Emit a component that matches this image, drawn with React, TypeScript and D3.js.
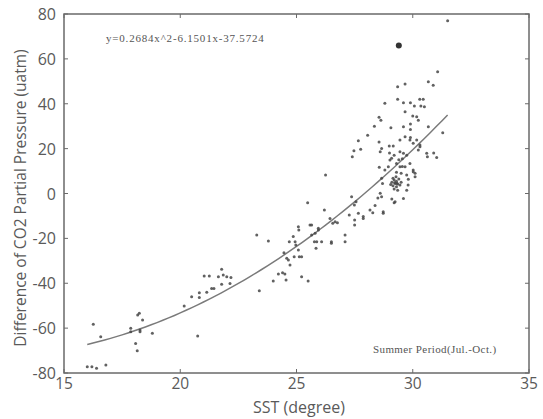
import React from 'react';
import * as d3 from 'd3';

// Sea surface temperature (degree) of each observation
const sstValues: number[] = [
  16.0, 16.2, 16.4, 16.8, 16.26, 16.58, 17.87, 17.87, 18.08, 18.15, 18.17, 18.24, 18.38, 18.27, 18.27, 18.8,
  20.75, 20.17, 20.49, 20.82, 20.82, 21.03, 21.25, 21.14, 21.35, 21.45, 21.78, 21.85, 21.64, 22.0, 21.78, 22.14, 22.18,
  23.29, 23.79, 23.4, 24.0, 24.22, 24.4, 24.5, 24.55, 25.22, 25.5, 24.46, 24.58, 24.65, 24.72, 24.86, 24.94, 24.97,
  24.69, 25.08, 25.12, 25.22, 25.08, 24.9, 25.1,
  25.48, 25.58, 25.65, 25.65, 25.77, 25.87, 25.84, 25.94, 25.94, 25.8, 26.08, 26.2, 26.25, 26.44, 26.5, 26.5, 26.56,
  26.66, 26.76, 27.09, 27.09, 27.37, 27.49, 27.56, 27.27, 27.5, 27.5, 27.66, 27.87, 27.87,
  27.4, 27.47, 27.76, 27.66, 28.06, 28.35, 28.63, 28.8, 28.16, 28.28, 28.73, 28.38, 28.6, 28.66, 28.6, 28.66, 28.56,
  28.8, 28.95, 28.66, 28.7, 28.73, 28.5, 28.55, 28.55,
  29.06, 29.35, 29.67, 29.35, 29.6, 29.9, 30.07, 30.45, 30.5, 29.67, 30.0, 30.17, 30.24, 29.6, 29.9, 30.67, 31.29,
  30.67, 30.88, 31.07, 31.5, 28.99, 29.16, 29.45, 29.67, 29.88, 30.02, 30.17, 30.31, 29.09, 29.02, 29.45, 29.6, 29.74,
  30.24, 30.31, 30.6, 30.63, 31.03, 29.3, 29.45, 29.67, 29.88, 30.02, 30.1, 29.74, 29.81, 30.02, 30.1, 29.8, 29.74,
  29.6, 29.2, 29.24,
  29.1, 29.15, 29.2, 29.25, 29.3, 29.3, 29.35, 29.2, 29.4, 29.45, 29.15, 29.28, 29.05, 29.5, 29.35, 29.22, 29.32,
  29.5, 29.55, 29.3, 29.4, 29.55, 29.2, 29.0, 29.1, 30.9, 29.9, 29.9, 30.3, 30.35,
];

// Difference of CO2 partial pressure (uatm) of each observation
const pco2Difference: number[] = [
  -77.2, -77.2, -77.9, -76.4, -58.3, -63.8, -60.1, -61.6, -66.8, -70.1, -54.2, -53.4, -56.4, -60.8, -61.6, -62.3,
  -63.5, -50.1, -46.0, -44.2, -46.4, -36.8, -36.8, -44.0, -42.3, -42.3, -33.8, -36.3, -37.1, -37.1, -40.5, -40.1, -37.4,
  -18.5, -21.2, -43.3, -39.0, -35.9, -35.3, -35.9, -38.6, -37.1, -39.0, -26.4, -28.9, -29.6, -31.9, -19.2, -21.5, -23.0,
  -21.5, -25.2, -28.2, -28.2, -14.8, -28.2, -16.3,
  -4.1, -14.0, -14.0, -18.5, -21.5, -21.5, -24.4, -15.5, -16.3, -17.7, -21.5, -7.4, 8.2, -11.1, -21.5, -22.2, -13.3,
  -12.6, -13.0, -18.5, -21.5, -1.4, -5.1, -3.7, -9.6, -11.8, -14.0, -8.8, -10.3, -11.1,
  16.4, 19.1, 19.7, 23.5, 26.0, 30.0, 32.7, 40.2, -7.4, -8.6, -8.8, -5.4, 0.1, -1.4, 18.6, 20.1, 11.7,
  10.5, 11.9, 6.8, 4.5, -8.1, -2.0, 34.0, 23.0,
  29.3, 47.6, 48.8, 42.0, 40.5, 40.5, 39.0, 42.0, 38.7, 36.4, 34.5, 34.2, 32.7, 29.8, 31.0, 29.8, 27.1,
  49.8, 48.3, 54.3, 77.0, 21.2, 21.2, 23.8, 25.3, 23.8, 22.4, 23.8, 21.6, 15.7, 14.9, 18.6, 17.9, 17.1,
  19.4, 20.8, 17.9, 16.4, 16.1, 13.4, 11.9, 11.9, 13.4, 10.5, 9.0, 8.2, 6.3, 9.7, 7.5, 3.8, 1.5,
  -2.2, -4.1, -3.7,
  5.0, 3.5, 6.0, 4.5, 5.5, 3.0, 4.2, 2.0, 6.5, 3.8, 6.8, 7.5, 4.0, 5.0, 1.5, 4.8, 4.6,
  9.0, 12.0, 9.5, 15.0, 15.5, 17.0, 18.0, -2.5, 18.0, 28.5, 25.0, 42.0, 39.0,
];

// The heavy dot near the top of the cloud
const heavySst: number[] = [29.4];
const heavyDifference: number[] = [66];

// Quadratic fit printed on the chart: y = a x^2 + b x + c
const fitCoefficients: number[] = [0.2684, -6.1501, -37.5724];
const fitSstRange: number[] = [16, 31.5];

const xTicks: number[] = [15, 20, 25, 30, 35];
const yTicks: number[] = [-80, -60, -40, -20, 0, 20, 40, 60, 80];

const equationLabel = 'y=0.2684x^2-6.1501x-37.5724';
const periodLabel = 'Summer Period(Jul.-Oct.)';
const xTitle = 'SST (degree)';
const yTitle = 'Difference of CO2 Partial Pressure (uatm)';

export default function App() {
  const W = 543;
  const H = 419;
  const left = 64, right = 529, top = 14, bottom = 373;

  const x = d3.scaleLinear().domain([15, 35]).range([left, right]);
  const y = d3.scaleLinear().domain([-80, 80]).range([bottom, top]);

  const [a, b, c] = fitCoefficients;
  const fitXs = d3.range(fitSstRange[0], fitSstRange[1] + 1e-9, 0.25);
  const fitLine = d3
    .line<number>()
    .x((d) => x(d))
    .y((d) => y(a * d * d + b * d + c))
    .curve(d3.curveMonotoneX)(fitXs) as string;

  const sans = "'Open Sans', 'DejaVu Sans', sans-serif";
  const serif = "'Liberation Serif', 'DejaVu Serif', serif";
  const axisColor = '#6a6a6a';
  const textColor = '#5a5a5a';
  const tickLen = 4;

  return (
    <svg
      width={W}
      height={H}
      viewBox={`0 0 ${W} ${H}`}
      style={{ position: 'absolute', left: 0, top: 0, background: '#fff' }}
    >
      <rect x={0} y={0} width={W} height={H} fill="#fff" />

      {/* frame */}
      <rect
        x={left}
        y={top}
        width={right - left}
        height={bottom - top}
        fill="none"
        stroke={axisColor}
        strokeWidth={1.5}
      />

      {/* ticks on all four sides */}
      {xTicks.map((t) => (
        <g key={`xt${t}`}>
          <line x1={x(t)} x2={x(t)} y1={bottom} y2={bottom - tickLen} stroke={axisColor} strokeWidth={1} />
          <line x1={x(t)} x2={x(t)} y1={top} y2={top + tickLen} stroke={axisColor} strokeWidth={1} />
          <text
            x={x(t)}
            y={389}
            textAnchor="middle"
            fontFamily={sans}
            fontSize={15.5}
            fill={textColor}
          >
            {t}
          </text>
        </g>
      ))}
      {yTicks.map((t) => (
        <g key={`yt${t}`}>
          <line x1={left} x2={left + tickLen} y1={y(t)} y2={y(t)} stroke={axisColor} strokeWidth={1} />
          <line x1={right} x2={right - tickLen} y1={y(t)} y2={y(t)} stroke={axisColor} strokeWidth={1} />
          <text
            x={56}
            y={y(t) + 6}
            textAnchor="end"
            fontFamily={sans}
            fontSize={16}
            fill={textColor}
          >
            {t}
          </text>
        </g>
      ))}

      {/* fitted curve */}
      <path d={fitLine} fill="none" stroke="#7a7a7a" strokeWidth={1.5} />

      {/* observations */}
      {sstValues.map((s, i) => (
        <circle key={`p${i}`} cx={x(s)} cy={y(pco2Difference[i])} r={1.5} fill="#454545" fillOpacity={0.85} />
      ))}
      {heavySst.map((s, i) => (
        <circle key={`h${i}`} cx={x(s)} cy={y(heavyDifference[i])} r={3} fill="#333" />
      ))}

      {/* annotations */}
      <text x={106} y={42} fontFamily={serif} fontSize={11} letterSpacing={0.8} fill="#555">
        {equationLabel}
      </text>
      <text x={373} y={353} fontFamily={serif} fontSize={11} letterSpacing={0.4} fill="#555">
        {periodLabel}
      </text>

      {/* axis titles */}
      <text x={299} y={413} textAnchor="middle" fontFamily={sans} fontSize={16} fill={textColor}>
        {xTitle}
      </text>
      <text
        transform={`translate(26, 198) rotate(-90)`}
        textAnchor="middle"
        fontFamily={sans}
        fontSize={15.5}
        fill={textColor}
      >
        {yTitle}
      </text>
    </svg>
  );
}
